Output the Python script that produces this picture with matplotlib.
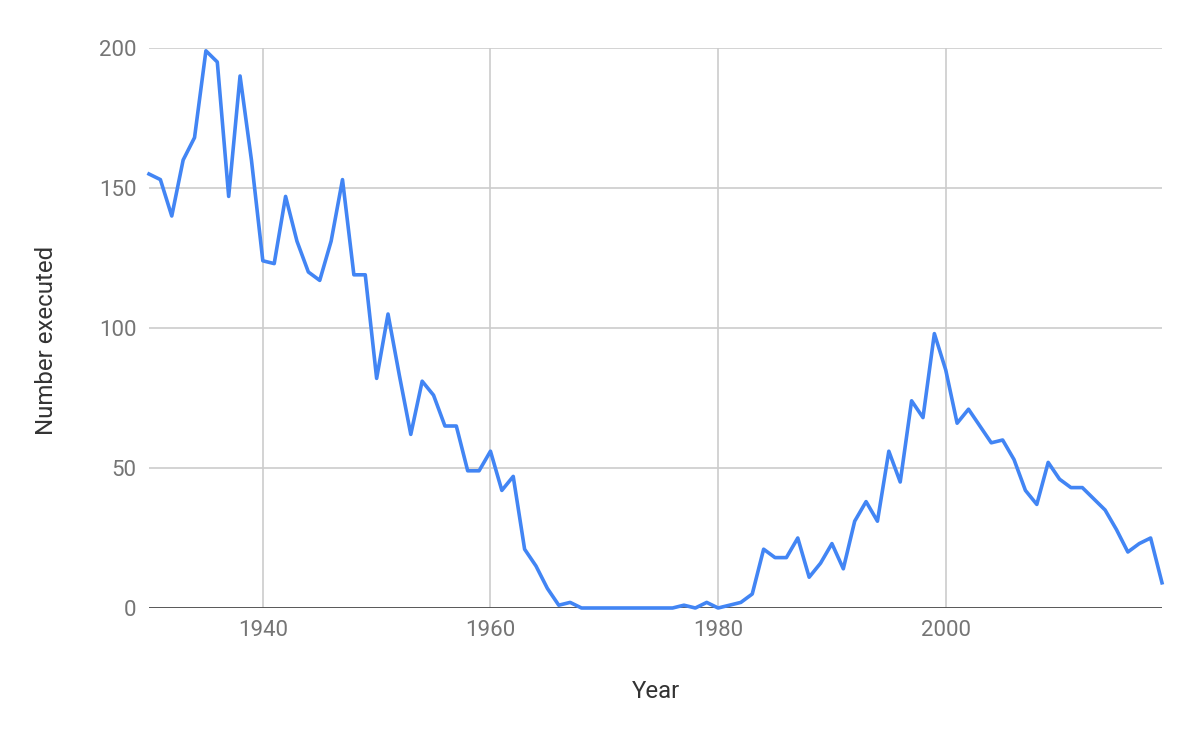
import matplotlib.pyplot as plt

years = list(range(1930, 2020))
executed = [
    155, 153, 140, 160, 168, 199, 195, 147, 190, 160,
    124, 123, 147, 131, 120, 117, 131, 153, 119, 119,
    82, 105, 83, 62, 81, 76, 65, 65, 49, 49,
    56, 42, 47, 21, 15, 7, 1, 2, 0, 0,
    0, 0, 0, 0, 0, 0, 0, 1, 0, 2,
    0, 1, 2, 5, 21, 18, 18, 25, 11, 16,
    23, 14, 31, 38, 31, 56, 45, 74, 68, 98,
    85, 66, 71, 65, 59, 60, 53, 42, 37, 52,
    46, 43, 43, 39, 35, 28, 20, 23, 25, 9,
]
x_ticks = [1940, 1960, 1980, 2000]
y_ticks = [0, 50, 100, 150, 200]

plt.rcParams['font.family'] = ['Roboto', 'DejaVu Sans']

fig = plt.figure(figsize=(12, 7.42), dpi=100)
ax = fig.add_axes([149 / 1200, 1 - 608 / 742, (1162 - 149) / 1200, (608 - 48) / 742])

ax.plot(years, executed, color='#4285F4', linewidth=2.6, zorder=4, clip_on=False)

ax.set_xlim(1930, 2019)
ax.set_ylim(0, 200)
ax.set_xticks(x_ticks)
ax.set_yticks(y_ticks)
ax.grid(True, color='#cccccc', linewidth=1.2, zorder=1)
ax.set_axisbelow(True)
ax.axhline(0, color='#333333', linewidth=1.8, zorder=3)
for s in ax.spines.values():
    s.set_visible(False)
ax.tick_params(length=0, labelsize=16, labelcolor='#757575', pad=9)

# axis titles placed where the reference has them
fig.text(656 / 1200, 1 - 692 / 742, 'Year', fontsize=17.3, color='#333333',
         ha='center', va='center')
fig.text(47 / 1200, 1 - 340 / 742, 'Number executed', fontsize=17.3, color='#333333',
         ha='center', va='center', rotation=90)

fig.savefig('out.png', dpi=100)
